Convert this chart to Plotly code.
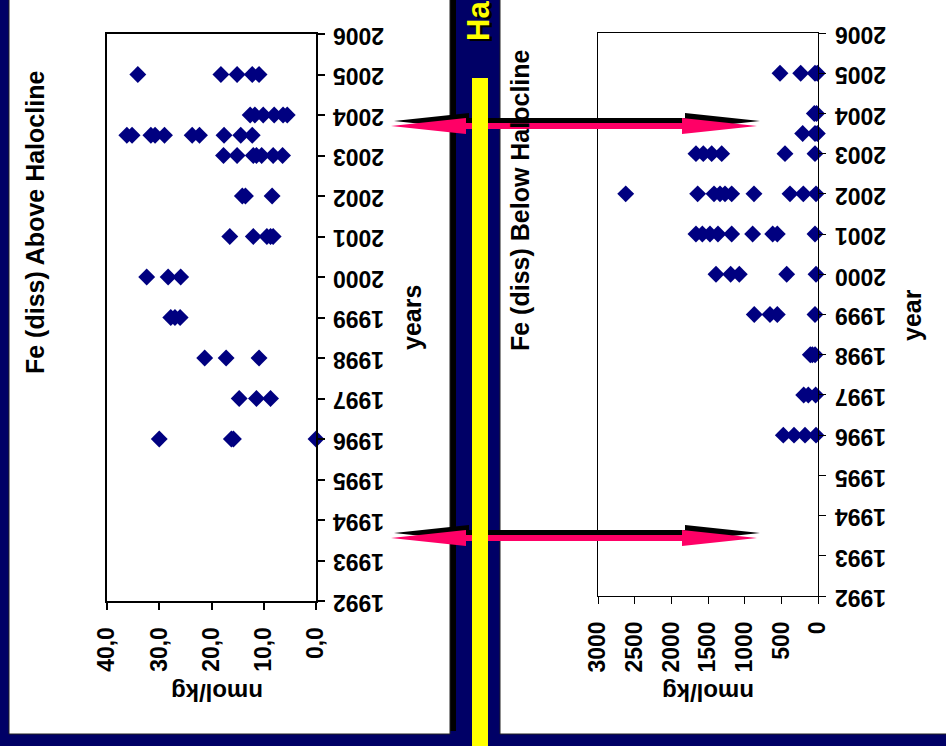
import plotly.graph_objects as go

# ---- data -------------------------------------------------------------
years = list(range(1992, 2007))

# Fe (diss) above the halocline, nmol/kg
above_year = ([2005] * 5 + [2004] * 6 + [2003.5] * 10 + [2003] * 7 + [2002] * 3 +
              [2001] * 5 + [2000] * 3 + [1999] * 3 + [1998] * 3 + [1997] * 3 + [1996] * 4)
above_val = [34.1, 18.2, 15.1, 12.2, 10.9,
             12.6, 11.7, 10.1, 8.0, 6.3, 5.5,
             36.2, 35.2, 31.6, 30.8, 29.0, 23.7, 22.3, 17.6, 14.4, 12.2,
             17.7, 15.1, 12.0, 11.4, 10.4, 8.2, 6.4,
             14.1, 13.5, 8.4,
             16.5, 12.0, 9.4, 8.7, 8.2,
             32.4, 28.3, 25.9,
             27.8, 27.0, 26.0,
             21.3, 17.2, 10.9,
             14.7, 11.4, 8.7,
             30.0, 16.2, 15.8, 0.0]

# Fe (diss) below the halocline, nmol/kg
below_year = ([2005] * 4 + [2004] * 2 + [2003.5] * 3 + [2003] * 6 + [2002] * 10 +
              [2001] * 9 + [2000] * 5 + [1999] * 4 + [1998] * 3 + [1997] * 3 + [1996] * 4)
below_val = [518, 236, 41, 9,
             50, 20,
             209, 41, 9,
             1664, 1564, 1450, 1313, 450, 41,
             2622, 1641, 1418, 1336, 1268, 1177, 873, 382, 200, 27,
             1664, 1577, 1473, 1364, 1177, 891, 618, 555, 41,
             1391, 1191, 1073, 427, 27,
             869, 655, 555, 41,
             105, 77, 40,
             195, 132, 32,
             473, 327, 177, 27]

above_ticks = [0, 10, 20, 30, 40]
below_ticks = [0, 500, 1000, 1500, 2000, 2500, 3000]

# ---- page geometry (pixels -> paper) ----------------------------------
W, H = 946, 746
FONT = "Liberation Sans, Arial, sans-serif"
NAVY = "#000066"
MARK = "#000080"
PINK = "#FF0066"
YELLOW = "#FFFF00"


def px(x):
    return x / W


def py(y):
    return 1 - y / H


def rect(x0, y0, x1, y1, fill, layer="below", line=None):
    return dict(type="rect", xref="paper", yref="paper",
                x0=px(x0), x1=px(x1), y0=py(y1), y1=py(y0),
                fillcolor=fill, layer=layer,
                line=line or dict(width=0))


def arrow_path(x0, x1, yc, head=75, hh=8, sh=3):
    pts = [(x0, yc), (x0 + head, yc - hh), (x0 + head, yc - sh),
           (x1 - head, yc - sh), (x1 - head, yc - hh), (x1, yc),
           (x1 - head, yc + hh), (x1 - head, yc + sh),
           (x0 + head, yc + sh), (x0 + head, yc + hh)]
    return "M " + " L ".join(f"{px(a):.5f},{py(b):.5f}" for a, b in pts) + " Z"


shapes = [
    # panels and panel shadow
    rect(444, -10, 456, 731, "black"),
    rect(9, -10, 450, 734, "white", line=dict(color="#222222", width=1)),
    rect(500, -10, 960, 734, "white", line=dict(color="#222222", width=1)),
]
for yc in (126, 538):
    shapes.append(dict(type="path", xref="paper", yref="paper", layer="above",
                       path=arrow_path(394, 760, yc - 5), fillcolor="black",
                       line=dict(width=0)))
    shapes.append(dict(type="path", xref="paper", yref="paper", layer="above",
                       path=arrow_path(391, 757, yc), fillcolor=PINK,
                       line=dict(width=0)))
# yellow divider on top of the arrows
shapes.append(rect(472, 78, 488, 760, YELLOW, layer="above"))

fig = go.Figure()
fig.add_trace(go.Scatter(x=above_val, y=above_year, mode="markers",
                         marker=dict(symbol="diamond", size=13, color=MARK),
                         xaxis="x", yaxis="y", cliponaxis=False, showlegend=False))
fig.add_trace(go.Scatter(x=below_val, y=below_year, mode="markers",
                         marker=dict(symbol="diamond", size=13, color=MARK),
                         xaxis="x2", yaxis="y2", cliponaxis=False, showlegend=False))

tickfont = dict(family=FONT, size=23, color="black", weight="bold")


def val_axis(dom, rng, vals, anchor, lw, fmt=None):
    d = dict(domain=dom, range=rng, anchor=anchor, tickmode="array", tickvals=vals,
             tickangle=-90, ticks="outside", ticklen=7, tickwidth=lw, tickcolor="black",
             showline=True, linecolor="black", linewidth=lw, mirror=True,
             showgrid=False, zeroline=False, tickfont=tickfont, ticklabelstandoff=8,
             automargin=False, fixedrange=True)
    if fmt:
        d["tickformat"] = fmt
    return d


def year_axis(dom, anchor, lw):
    return dict(domain=dom, range=[1992, 2006], anchor=anchor, side="right",
                tickmode="array", tickvals=years, ticks="outside", ticklen=7,
                tickwidth=lw, tickcolor="black", showticklabels=False,
                showline=True, linecolor="black", linewidth=lw, mirror=True,
                showgrid=False, zeroline=False, automargin=False, fixedrange=True)


annotations = []


def text(x, y, s, size, angle, color="black", xref="paper", yref="paper",
         xanchor="center", yanchor="middle", yshift=0):
    annotations.append(dict(x=x, y=y, xref=xref, yref=yref, text=s, showarrow=False,
                            textangle=angle, xanchor=xanchor, yanchor=yanchor,
                            yshift=yshift,
                            font=dict(family=FONT, size=size, color=color,
                                      weight="bold")))


# year tick labels (upside down)
for yr in years:
    text(px(359), yr, str(yr), 23, 180, yref="y", yshift=-2)
    text(px(861), yr, str(yr), 23, 180, yref="y2", yshift=-2)

# titles and axis titles
text(px(35), py(223), "Fe (diss) Above Halocline", 25, -90)
text(px(520), py(200), "Fe (diss) Below Halocline", 25, -90)
text(px(412), py(318), "years", 25, -90)
text(px(912), py(315), "year", 25, -90)
text(px(217), py(693), "nmol/kg", 24, 180)
text(px(708), py(693), "nmol/kg", 24, 180)

# slide heading fragment with shadow
text(px(481), py(45), "Ha", 31, -90, color="black", yanchor="bottom")
text(px(478), py(43), "Ha", 31, -90, color=YELLOW, yanchor="bottom")

fig.update_layout(
    width=W, height=H,
    margin=dict(l=0, r=0, t=0, b=0, pad=0, autoexpand=False),
    paper_bgcolor=NAVY, plot_bgcolor="rgba(0,0,0,0)",
    separators=",.", showlegend=False,
    xaxis=val_axis([px(107), px(316)], [40, 0], above_ticks, "y", 1.8, ".1f"),
    yaxis=year_axis([py(601), py(34)], "x", 1.8),
    xaxis2=val_axis([px(598), px(818)], [3000, 0], below_ticks, "y2", 1.3),
    yaxis2=year_axis([py(596), py(33)], "x2", 1.3),
    shapes=shapes, annotations=annotations,
)

fig.write_html("out.html", config={"displayModeBar": False})
